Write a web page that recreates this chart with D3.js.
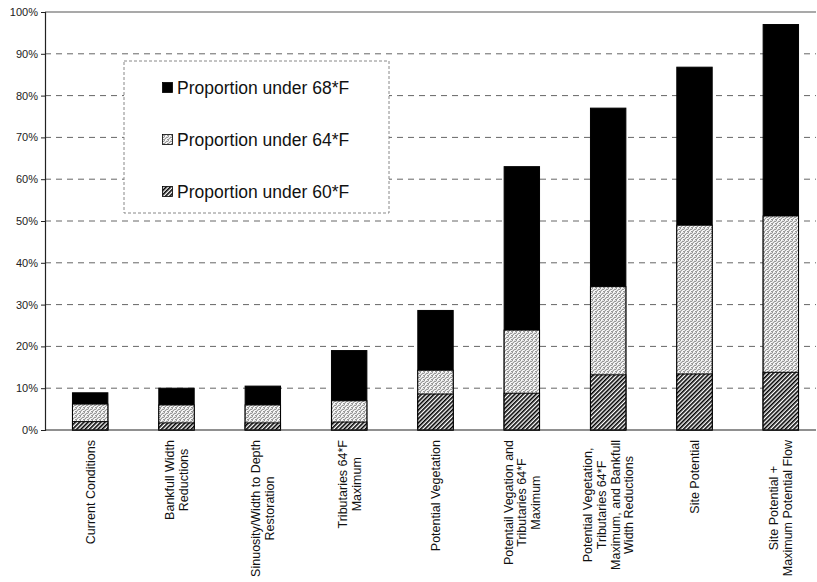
<!DOCTYPE html>
<html>
<head>
<meta charset="utf-8">
<script src="https://cdn.jsdelivr.net/npm/d3@7"></script>
<style>
  html, body { margin: 0; padding: 0; background: #fff; }
  svg { display: block; font-family: Arial, "Liberation Sans", sans-serif; }
</style>
</head>
<body>
<svg id="chart" width="817" height="582"></svg>
<script>
// ---- data (cumulative proportions, %) ----
const categories = [
  ["Current Conditions"],
  ["Bankfull Width", "Reductions"],
  ["Sinuosity/Width to Depth", "Restoration"],
  ["Tributaries 64*F", "Maximum"],
  ["Potential Vegetation"],
  ["Potentail Vegation and", "Tributaries 64*F", "Maximum"],
  ["Potential Vegetation,", "Tributaries 64*F", "Maximum, and Bankfull", "Width Reductions"],
  ["Site Potential"],
  ["Site Potential +", "Maximum Potential Flow"]
];
const under68 = [8.9, 10.0, 10.5, 19.0, 28.6, 63.0, 77.0, 86.8, 97.0];
const under64 = [6.2, 6.0, 6.0, 7.0, 14.3, 23.9, 34.3, 49.0, 51.2];
const under60 = [2.0, 1.7, 1.7, 1.9, 8.6, 8.8, 13.2, 13.4, 13.8];
const yTicks = [0, 10, 20, 30, 40, 50, 60, 70, 80, 90, 100];
const legendLabels = ["Proportion under 68*F", "Proportion under 64*F", "Proportion under 60*F"];

(function () {
const svg = d3.select("#chart");
const mLeft = 45, mRight = 816, mTop = 12, mBottom = 430;

const x = d3.scaleBand().domain(d3.range(categories.length)).range([47, 824]).paddingInner(0.59).paddingOuter(0.295);
const y = d3.scaleLinear().domain([0, 100]).range([mBottom, mTop]);

// patterns
const defs = svg.append("defs");
const hatch = defs.append("pattern").attr("id", "hatch").attr("patternUnits", "userSpaceOnUse")
  .attr("width", 3).attr("height", 3).attr("patternTransform", "rotate(45)");
hatch.append("rect").attr("width", 3).attr("height", 3).attr("fill", "#fff");
hatch.append("rect").attr("width", 1.6).attr("height", 3).attr("fill", "#000");

const dots = defs.append("pattern").attr("id", "dots").attr("patternUnits", "userSpaceOnUse")
  .attr("width", 4).attr("height", 4);
dots.append("rect").attr("width", 4).attr("height", 4).attr("fill", "#e2e2e2");
[[0,0],[2,1],[1,2],[3,3],[0,3],[3,1]].forEach(([a,b]) =>
  dots.append("rect").attr("x", a).attr("y", b).attr("width", 1).attr("height", 1).attr("fill", "#999"));
[[1,0],[3,2],[2,3]].forEach(([a,b]) =>
  dots.append("rect").attr("x", a).attr("y", b).attr("width", 1).attr("height", 1).attr("fill", "#fff"));

// gridlines
svg.append("g").selectAll("line").data(yTicks.filter(t => t > 0 && t < 100)).join("line")
  .attr("x1", mLeft).attr("x2", mRight).attr("y1", d => y(d)).attr("y2", d => y(d))
  .attr("stroke", "#666").attr("stroke-width", 1).attr("stroke-dasharray", "6,5");

// top frame line
svg.append("line").attr("x1", mLeft).attr("x2", mRight).attr("y1", y(100)).attr("y2", y(100))
  .attr("stroke", "#555").attr("stroke-width", 1.2);

// y axis
const yAxis = d3.axisLeft(y).tickValues(yTicks).tickFormat(d => d + "%").tickSize(4).tickPadding(3);
const gy = svg.append("g").attr("transform", `translate(${mLeft},0)`).call(yAxis);
gy.select(".domain").attr("stroke", "#222").attr("stroke-width", 1.2);
gy.selectAll(".tick line").attr("stroke", "#222");
gy.selectAll(".tick text").attr("font-size", 11).attr("fill", "#222").attr("font-family", "Arial, 'Liberation Sans', sans-serif");

// legend box
const lg = svg.append("g");
lg.append("rect").attr("x", 124).attr("y", 61).attr("width", 265).attr("height", 152)
  .attr("fill", "#fff").attr("stroke", "#888").attr("stroke-width", 1).attr("stroke-dasharray", "3,2");
const fills = ["#000", "url(#dots)", "url(#hatch)"];
legendLabels.forEach((t, i) => {
  const cy = 88 + i * 52;
  lg.append("rect").attr("x", 162.5).attr("y", cy - 5.5).attr("width", 10).attr("height", 10)
    .attr("fill", fills[i]).attr("stroke", "#000").attr("stroke-width", 0.8);
  lg.append("text").attr("x", 177).attr("y", cy).attr("dy", "0.36em")
    .attr("font-size", 17.5).attr("fill", "#111").text(t);
});

// bars
const bars = svg.append("g");
const series = [[under68, "#000"], [under64, "url(#dots)"], [under60, "url(#hatch)"]];
series.forEach(([vals, fill]) => {
  bars.selectAll(null).data(vals).join("rect")
    .attr("x", (d, i) => x(i)).attr("width", x.bandwidth())
    .attr("y", d => y(d)).attr("height", d => y(0) - y(d))
    .attr("fill", fill).attr("stroke", "#000").attr("stroke-width", 1);
});

// x axis line
svg.append("line").attr("x1", mLeft).attr("x2", mRight).attr("y1", mBottom).attr("y2", mBottom)
  .attr("stroke", "#222").attr("stroke-width", 1.2);

// x labels
const lineH = 13.8;
categories.forEach((lines, i) => {
  const cx = x(i) + x.bandwidth() / 2;
  const g = svg.append("g");
  const txts = lines.map((l) => g.append("text").attr("font-size", 12.5).attr("fill", "#111")
    .attr("text-anchor", "middle").text(l));
  const maxW = d3.max(txts, t => t.node().getComputedTextLength());
  const n = lines.length;
  txts.forEach((t, k) => {
    const lx = cx + (k - (n - 1) / 2) * lineH;
    const ly = 440 + maxW / 2;
    t.attr("transform", `translate(${lx + 4.5},${ly}) rotate(-90)`);
  });
});
})();
</script>
</body>
</html>
